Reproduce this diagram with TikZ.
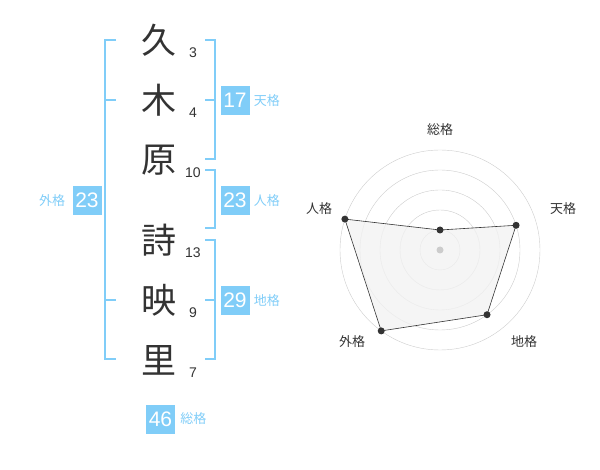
\documentclass[tikz,border=0pt]{standalone}
\usepackage{fontspec}
\usetikzlibrary{positioning}
\setmainfont{Liberation Sans}
\newfontfamily\cjk{Noto Sans CJK JP}
\definecolor{kakublue}{HTML}{80CDF8}
\definecolor{chargray}{HTML}{333333}
\definecolor{ringgray}{HTML}{CCCCCC}
\definecolor{areagray}{HTML}{F2F2F2}

\begin{document}
\begin{tikzpicture}[x=1pt,y=-1pt]

\tikzset{kanji/.style = {text=chargray, font=\cjk\fontsize{35}{35}\selectfont, inner sep=0pt}}
\tikzset{stroke/.style = {text=chargray, font=\fontsize{14}{14}\selectfont, inner sep=0pt}}
\tikzset{kakubox/.style = {fill=kakublue, text=white, minimum size=29pt, inner sep=0pt, font=\fontsize{21}{21}\selectfont}}
\tikzset{kakuname/.style = {text=kakublue, font=\cjk\fontsize{13}{13}\selectfont, inner sep=0pt}}
\tikzset{bracket/.style = {draw=kakublue, line width=2pt}}
\tikzset{axisname/.style = {text=chargray, font=\cjk\fontsize{13}{13}\selectfont, inner sep=0pt}}
\tikzset{dot/.style = {circle, fill=chargray, inner sep=0pt, minimum size=7pt}}

\useasboundingbox (0,0) rectangle (600,470);

%name
\node[kanji] (k1) at (159,40) {久};
\node[kanji] (k2) at (159,100) {木};
\node[kanji] (k3) at (159,160) {原};
\node[kanji] (k4) at (159,240) {詩};
\node[kanji] (k5) at (159,300) {映};
\node[kanji] (k6) at (159,360) {里};
%strokes
\node[stroke] (s1) at (193,53) {3};
\node[stroke] (s2) at (193,113) {4};
\node[stroke] (s3) at (193,173) {10};
\node[stroke] (s4) at (193,253) {13};
\node[stroke] (s5) at (193,313) {9};
\node[stroke] (s6) at (193,373) {7};
%brackets
\draw[bracket] (116,40) -- (105,40) -- (105,359) -- (116,359);
\draw[bracket] (105,100) -- (116,100);
\draw[bracket] (105,300) -- (116,300);
\draw[bracket] (205,40) -- (215,40) -- (215,159) -- (205,159);
\draw[bracket] (205,100) -- (215,100);
\draw[bracket] (205,170) -- (215,170) -- (215,228) -- (205,228);
\draw[bracket] (205,240) -- (215,240) -- (215,359) -- (205,359);
\draw[bracket] (205,300) -- (215,300);
%scores
\node[kakubox] (ten) at (235,100.5) {17};
\node[kakuname, right=4pt of ten] {天格};
\node[kakubox] (jin) at (235,200.5) {23};
\node[kakuname, right=4pt of jin] {人格};
\node[kakubox] (chi) at (235,300.5) {29};
\node[kakuname, right=4pt of chi] {地格};
\node[kakubox] (gai) at (87,200.5) {23};
\node[kakuname, left=7pt of gai] {外格};
\node[kakubox] (sou) at (160.5,419) {46};
\node[kakuname, right=5pt of sou] {総格};

%radar
\begin{scope}[shift={(440,250)}, y=1pt]
\foreach \r in {20,40,60,80,100}
  \draw[ringgray] (0,0) circle (\r);
\coordinate (pSou) at (90:20);
\coordinate (pTen) at (18:80);
\coordinate (pChi) at (-54:80);
\coordinate (pGai) at (-126:100);
\coordinate (pJin) at (162:100);
\filldraw[fill=areagray, fill opacity=0.8, draw=chargray, line width=0.6pt]
  (pSou) -- (pTen) -- (pChi) -- (pGai) -- (pJin) -- cycle;
\node[circle, fill=ringgray, inner sep=0pt, minimum size=7pt] (c) at (0,0) {};
\foreach \p in {pSou,pTen,pChi,pGai,pJin}
  \node[dot] at (\p) {};
\end{scope}
\node[axisname] (aSou) at (440,130) {総格};
\node[axisname] (aTen) at (563,209) {天格};
\node[axisname] (aChi) at (524,342) {地格};
\node[axisname] (aGai) at (352,342) {外格};
\node[axisname] (aJin) at (319,209) {人格};

\end{tikzpicture}
\end{document}
